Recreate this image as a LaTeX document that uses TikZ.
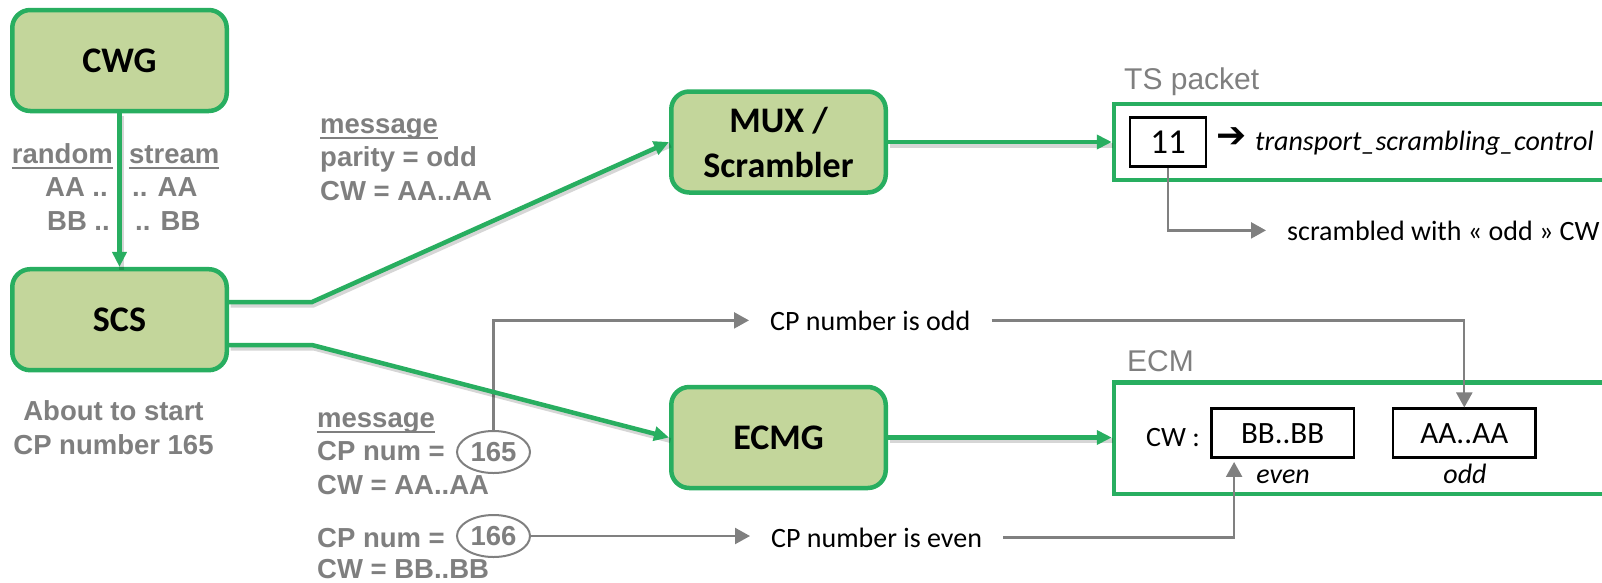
\documentclass[tikz,border=0pt]{standalone}
\usepackage{fontspec}
\setmainfont{Carlito}
\newfontfamily\arialfont{Liberation Sans}
\newfontfamily\symfont{DejaVu Sans}
\usetikzlibrary{arrows.meta,shapes.geometric,calc}

\definecolor{grn}{RGB}{40,174,96}
\definecolor{lgrn}{RGB}{195,214,155}
\definecolor{gtxt}{RGB}{127,127,127}
\definecolor{gline}{RGB}{128,128,128}

% underlined word with a thick rule
\newsavebox\ulbox
\newcommand\undl[1]{\sbox\ulbox{#1}\rlap{\rule[-6pt]{\wd\ulbox}{2.2pt}}\usebox\ulbox}
\newcommand\us{\char"5F\relax}
\newcommand\gsize{\fontsize{27.5}{33.5}\selectfont}

\begin{document}
\begin{tikzpicture}[x=1pt,y=-1pt,
  unit/.style={draw=grn, fill=lgrn, line width=4.5pt, rounded corners=18pt,
    minimum width=214.5pt, minimum height=101pt, inner sep=0pt, align=center,
    font=\fontsize{36}{45}\selectfont\bfseries},
  field/.style={draw=grn, line width=4.5pt, inner sep=0pt},
  flow/.style={draw=grn, line width=4.5pt, -{Triangle[length=15pt,width=14pt]},
    preaction={draw=black, draw opacity=0.16, line width=5pt, arrows=-,
      transform canvas={shift={(1.5pt,-3pt)}}}},
  garrow/.style={draw=gline, line width=2.3pt, -{Triangle[length=15pt,width=16pt]}},
  glabel/.style={font=\arialfont\bfseries\gsize, text=gtxt, inner sep=0pt},
  ghead/.style={font=\arialfont\fontsize{30}{36}\selectfont, text=gtxt, inner sep=0pt},
  note/.style={font=\fontsize{28}{34}\selectfont, inner xsep=21pt, inner ysep=0pt},
  plain/.style={font=\fontsize{28}{34}\selectfont, inner sep=0pt},
  cwbox/.style={draw=black, line width=2.5pt, minimum width=142.7pt, minimum height=49pt,
    inner sep=0pt, font=\fontsize{31}{37}\selectfont},
  cpnum/.style={ellipse, draw=gline, line width=2pt, minimum width=73pt,
    minimum height=42pt, inner sep=0pt, font=\arialfont\bfseries\gsize, text=gtxt}
]
\useasboundingbox (0,0) rectangle (1602,582);

% output structures
\node[field, minimum width=526pt, minimum height=76pt] (ts) at (1377,142) {};
\node[field, minimum width=526pt, minimum height=111.5pt] (ecm) at (1377,438) {};
\node[ghead, anchor=base west] (tslbl) at (1124,89) {TS packet};
\node[ghead, anchor=base west] (ecmlbl) at (1127,371) {ECM};

% processing units
\node[unit] (cwg) at (119.5,60.5) {CWG};
\node[unit] (scs) at (119.5,319.7) {SCS};
\node[unit] (mux) at (778.5,142) {MUX /\\Scrambler};
\node[unit] (ecmg) at (778.5,437.5) {ECMG};

% TS packet contents
\node[cwbox, minimum width=75.7pt, font=\fontsize{35}{42}\selectfont] (eleven) at (1168,142) {11};
\node[inner sep=0pt, anchor=west, font=\symfont\fontsize{36}{42}\selectfont] (tsarrow) at (1216,138) {➔};
\node[plain, anchor=base west, font=\itshape\fontsize{28}{34}\selectfont] (tsc) at (1255,150)
  {transport\us scrambling\us control};
\node[note, anchor=base west] (scr) at (1266,240) {scrambled with « odd » CW};

% ECM contents
\node[plain, anchor=base west] (cwlbl) at (1146,446) {CW :};
\node[cwbox] (bb) at (1282.6,433.2) {BB..BB};
\node[cwbox] (aa) at (1464.3,433.2) {AA..AA};
\node[plain, anchor=base, font=\itshape\fontsize{28}{34}\selectfont] (evenlbl) at (1283,483) {even};
\node[plain, anchor=base, font=\itshape\fontsize{28}{34}\selectfont] (oddlbl) at (1465,483) {odd};

% annotations
\node[glabel, anchor=base east] (rnd) at (113,163)
  {\begin{tabular}[t]{@{}r@{}}\undl{random}\\AA ..\hspace*{5pt}\\BB ..\hspace*{3pt}\end{tabular}};
\node[glabel, anchor=base west] (strm) at (129,163)
  {\begin{tabular}[t]{@{}l@{}}\undl{stream}\\\hspace*{3pt}.. AA\\\hspace*{6pt}.. BB\end{tabular}};
\node[glabel, anchor=base west] (msgmux) at (320,133)
  {\begin{tabular}[t]{@{}l@{}}\undl{message}\\parity = odd\\CW = AA..AA\end{tabular}};
\node[glabel, anchor=base, font=\arialfont\bfseries\fontsize{27.5}{34}\selectfont] (about) at (113.5,420)
  {\begin{tabular}[t]{@{}c@{}}About to start\\CP number 165\end{tabular}};
\node[glabel, anchor=base west] (msgecm) at (317,427)
  {\begin{tabular}[t]{@{}l@{}}\undl{message}\\CP num =\\CW = AA..AA\end{tabular}};
\node[glabel, anchor=base west, font=\arialfont\bfseries\fontsize{27.5}{31.5}\selectfont] (msgnext) at (317,547)
  {\begin{tabular}[t]{@{}l@{}}CP num =\\CW = BB..BB\end{tabular}};
\node[cpnum] (e165) at (493.5,452) {165};
\node[cpnum] (e166) at (493.5,536) {166};

\node[note, anchor=base west] (oddtxt) at (749,330) {CP number is odd};
\node[note, anchor=base west] (evntxt) at (750,547) {CP number is even};

% parity routing
\coordinate (bbin) at ([xshift=-48.5pt,yshift=-3pt]bb.south);
\draw[garrow] (e165.north) |- (oddtxt.west);
\draw[garrow] (oddtxt.east) -| (aa.north);
\draw[garrow] (e166.east) -- (e166.east -| evntxt.west);
\draw[garrow] (evntxt.east) -| (bbin);
\draw[garrow] (eleven.south) |- (scr.west);

% main signal flow
\coordinate (bendup) at (312,302);
\coordinate (benddn) at (312,345);
\draw[flow] (cwg) -- (scs);
\draw[flow] (scs.east |- bendup) -- (bendup) -- (mux.west);
\draw[flow] (scs.east |- benddn) -- (benddn) -- (ecmg.west);
\draw[flow] (mux.east) -- (mux.east -| ts.west);
\draw[flow] (ecmg.east) -- (ecmg.east -| ecm.west);
\end{tikzpicture}
\end{document}
